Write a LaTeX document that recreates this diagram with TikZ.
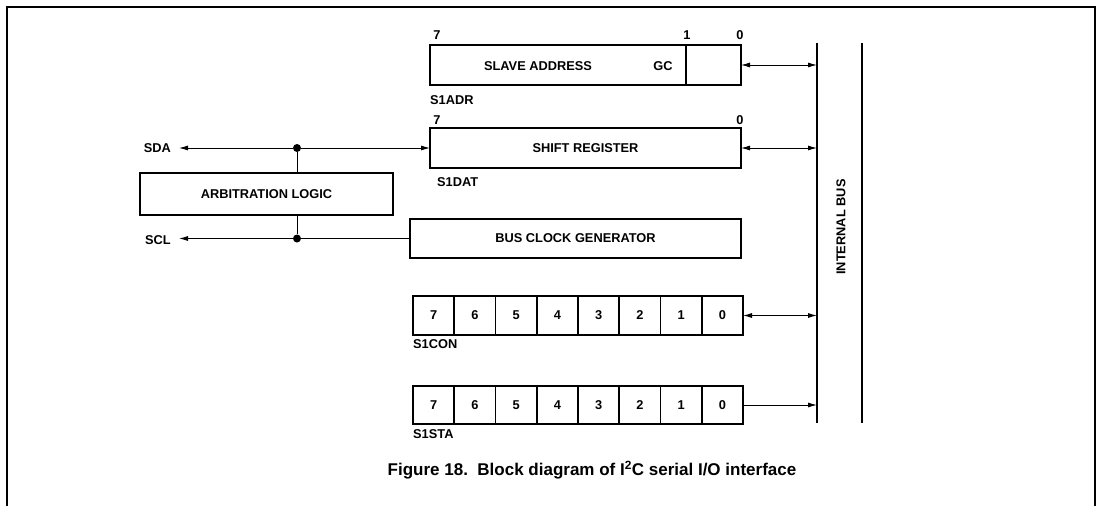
\documentclass[tikz,border=0pt]{standalone}
\usepackage{fontspec}
\setmainfont{Liberation Sans}
\usetikzlibrary{arrows.meta}
\tikzset{
  regbox/.style={draw, line width=1.6pt, inner sep=0pt, outer sep=0pt, font=\bfseries\fontsize{12.8}{13}\selectfont},
  lbl/.style={inner sep=0pt, font=\bfseries\fontsize{12.8}{13}\selectfont},
  tip/.tip={Latex[length=9pt,width=5pt]},
  conn/.style={line width=0.9pt, -tip},
  bconn/.style={line width=0.9pt, tip-tip},
  plainconn/.style={line width=0.9pt},
  busline/.style={line width=1.6pt},
  junction/.style={circle, fill, inner sep=0pt, minimum size=8pt},
}
\begin{document}
\begin{tikzpicture}[x=1pt,y=-1pt]
\useasboundingbox (0,0) rectangle (1098,506);
% frame
\draw[line width=1.3pt] (7,506) -- (7,7) -- (1095,7) -- (1095,506);

% internal bus
\coordinate (busA1) at (817,43);
\coordinate (busA2) at (817,423);
\coordinate (busB1) at (862,43);
\coordinate (busB2) at (862,423);
\draw[busline] (busA1) -- (busA2);
\draw[busline] (busB1) -- (busB2);
\node[lbl, rotate=90] (ibus) at (841,227) {INTERNAL BUS};

% slave address register
\node[regbox, minimum width=311pt, minimum height=40pt] (slave) at (585.5,65) {};
\coordinate (gcT) at (686,45);
\coordinate (gcB) at (686,85);
\draw[line width=1.6pt] (gcT) -- (gcB);
\node[lbl] (slavetxt) at (538,66) {SLAVE ADDRESS};
\node[lbl] (gctxt) at (663,66) {GC};
\node[lbl] (sa7) at (437,35) {7};
\node[lbl] (sa1) at (687,35) {1};
\node[lbl] (sa0) at (740,35) {0};
\node[lbl, anchor=west] (s1adr) at (430,100) {S1ADR};

% shift register
\node[regbox, minimum width=311pt, minimum height=40pt] (shift) at (585.5,148) {SHIFT REGISTER};
\node[lbl] (sh7) at (437,120) {7};
\node[lbl] (sh0) at (740,120) {0};
\node[lbl, anchor=west] (s1dat) at (437,182) {S1DAT};

% bus clock generator
\node[regbox, minimum width=331pt, minimum height=39pt] (bcg) at (575.5,238.5) {BUS CLOCK GENERATOR};

% arbitration logic
\node[regbox, minimum width=253pt, minimum height=42pt] (arb) at (266.5,194) {ARBITRATION LOGIC};

% SDA / SCL
\node[lbl, anchor=east] (sda) at (171,148) {SDA};
\node[lbl, anchor=east] (scl) at (171,240) {SCL};
\coordinate (sdaEnd) at (179,148);
\coordinate (sclEnd) at (179,238.5);
\node[junction] (dA) at (297,148) {};
\node[junction] (dC) at (297,238.5) {};
\draw[conn] (dA) -- (sdaEnd);
\draw[conn] (dA) -- (shift.west);
\draw[plainconn] (dA) -- (dA |- arb.north);
\draw[plainconn] (bcg.west) -- (dC);
\draw[conn] (dC) -- (sclEnd);
\draw[plainconn] (dC) -- (dC |- arb.south);

% S1CON
\foreach \i/\d in {0/7,1/6,2/5,3/4,4/3,5/2,6/1,7/0} {
  \node[regbox, minimum width=41.25pt, minimum height=39pt] (con\d) at ({413+20.625+41.25*\i},315.5) {\d};
}
\node[lbl, anchor=west] (s1con) at (413,344) {S1CON};

% S1STA
\foreach \i/\d in {0/7,1/6,2/5,3/4,4/3,5/2,6/1,7/0} {
  \node[regbox, minimum width=41.25pt, minimum height=38pt] (sta\d) at ({413+20.625+41.25*\i},405) {\d};
}
\node[lbl, anchor=west] (s1sta) at (413,434) {S1STA};

% connections to bus
\draw[bconn] (slave.east) -- (slave.east -| busA1);
\draw[bconn] (shift.east) -- (shift.east -| busA1);
\draw[bconn] (con0.east) -- (con0.east -| busA1);
\draw[conn] (sta0.east) -- (sta0.east -| busA1);

% caption
\node[inner sep=0pt, font=\bfseries\fontsize{17}{17}\selectfont] (caption) at (592,470) {Figure 18.\ \ Block diagram of I\textsuperscript{2}C serial I/O interface};
\end{tikzpicture}
\end{document}
